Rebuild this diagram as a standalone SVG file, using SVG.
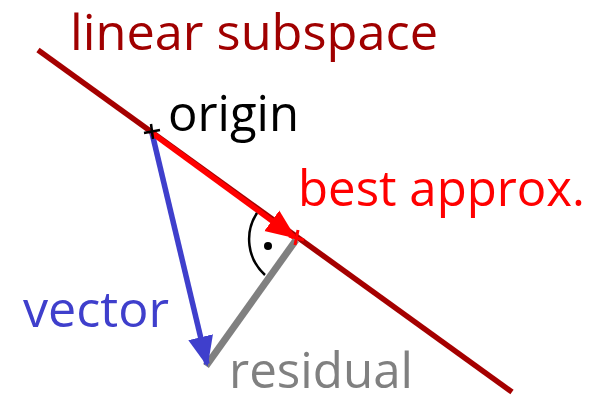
<svg xmlns="http://www.w3.org/2000/svg" width="593" height="399" viewBox="0 0 593 399">
<style>
text{font-family:"Open Sans","Liberation Sans",sans-serif;font-size:50px}
</style>
<defs>
<marker id="ar" markerWidth="6" markerHeight="6" refX="5" refY="3" orient="auto" markerUnits="strokeWidth"><path d="M0,0.7L5.5,3L0,5.3z" fill="#ff0000"/></marker>
<marker id="ab" markerWidth="6" markerHeight="6" refX="5" refY="3" orient="auto" markerUnits="strokeWidth"><path d="M0,0.7L5.5,3L0,5.3z" fill="#3f3fcc"/></marker>
</defs>
<rect width="593" height="399" fill="#fff"/>
<g id="connectors">
<line x1="38" y1="50" x2="512" y2="392" stroke="#a50000" stroke-width="5.5"/>
<line x1="296" y1="240" x2="206" y2="366" stroke="#808080" stroke-width="7"/>
<line x1="152" y1="133" x2="207" y2="364" stroke="#3f3fcc" stroke-width="5.5" marker-end="url(#ab)"/>
<line x1="152" y1="133" x2="294" y2="237" stroke="#ff0000" stroke-width="5.5" marker-end="url(#ar)"/>
<path d="M257,213 A48,48 0 0 0 265,275" fill="none" stroke="#000" stroke-width="2.5"/>
<circle cx="268" cy="246" r="4" fill="#000"/>
</g>
<g id="origin">
<path d="M144,133l16,-3M151,124l2,15" stroke="#000" stroke-width="2.5"/>
<text x="168" y="131" textLength="131" lengthAdjust="spacingAndGlyphs">origin</text>
</g>
<g id="best">
<path d="M289,236l15,4M298,230l-3,15" stroke="#ff0000" stroke-width="3"/>
<text x="298" y="206" fill="#ff0000" textLength="287" lengthAdjust="spacingAndGlyphs">best approx.</text>
</g>
<g id="subspace">
<text x="70" y="50" fill="#a00000" textLength="368" lengthAdjust="spacingAndGlyphs">linear subspace</text>
</g>
<g id="vector">
<text x="23" y="327" fill="#3f3fcc" textLength="146" lengthAdjust="spacingAndGlyphs">vector</text>
</g>
<g id="residual">
<text x="229" y="388" fill="#808080" textLength="184" lengthAdjust="spacingAndGlyphs">residual</text>
</g>
</svg>
